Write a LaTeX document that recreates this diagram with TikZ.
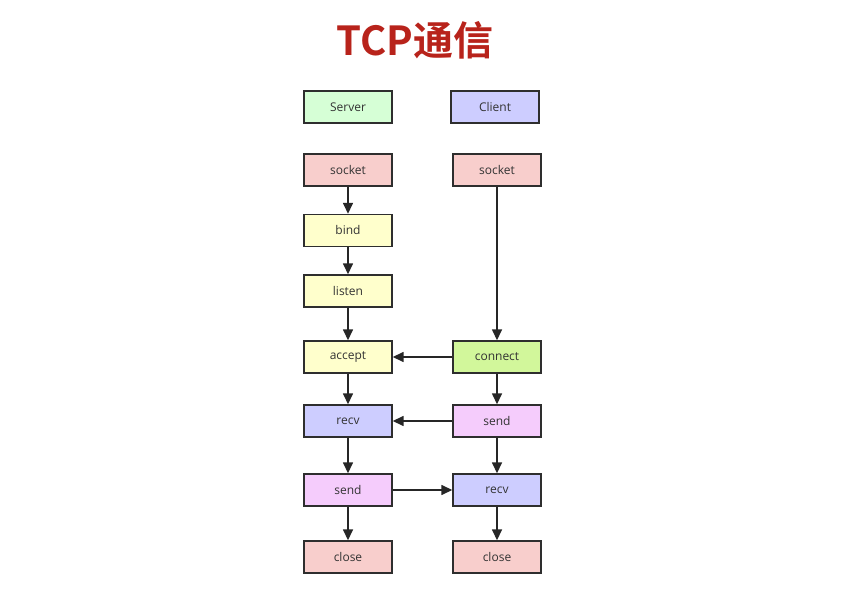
\documentclass[tikz,border=0pt]{standalone}
\usepackage{fontspec}
\setsansfont{Open Sans}
\newfontfamily\cjk{Noto Sans CJK SC}[BoldFont={Noto Sans CJK SC Bold}]
\usetikzlibrary{arrows.meta}
\definecolor{titlered}{HTML}{B8231B}
\definecolor{cgreen}{HTML}{D6FFD6}
\definecolor{cblue}{HTML}{CDCDFF}
\definecolor{cpink}{HTML}{F8CECC}
\definecolor{cyellow}{HTML}{FFFFCC}
\definecolor{clime}{HTML}{D2F79B}
\definecolor{cviolet}{HTML}{F5CCFC}
\definecolor{cborder}{HTML}{2E2E2E}
\tikzset{
  box/.style={draw=cborder, line width=1.4pt, minimum width=88pt, minimum height=32pt,
    inner sep=0pt, font=\sffamily\fontsize{12}{14}\selectfont, text=black!80},
  link/.style={draw=black!85, line width=1.5pt, -{Triangle[length=11pt,width=10pt]}}
}
\begin{document}
\begin{tikzpicture}[x=1pt,y=-1pt]
\useasboundingbox[fill=white] (0,0) rectangle (851,593);
\node[font=\cjk\bfseries\fontsize{40}{46}\selectfont, text=titlered] (title) at (415,40) {TCP通信};
\node[box, fill=cgreen] (server) at (348,107) {Server};
\node[box, fill=cblue] (client) at (495,107) {Client};
\node[box, fill=cpink] (ssock) at (348,170) {socket};
\node[box, fill=cyellow] (bind) at (348,230.5) {bind};
\node[box, fill=cyellow] (listen) at (348,291) {listen};
\node[box, fill=cyellow] (accept) at (348,357) {accept};
\node[box, fill=cblue] (srecv) at (348,421) {recv};
\node[box, fill=cviolet] (ssend) at (348,490) {send};
\node[box, fill=cpink] (sclose) at (348,557) {close};
\node[box, fill=cpink] (csock) at (497,170) {socket};
\node[box, fill=clime] (connect) at (497,357) {connect};
\node[box, fill=cviolet] (csend) at (497,421) {send};
\node[box, fill=cblue] (crecv) at (497,490) {recv};
\node[box, fill=cpink] (cclose) at (497,557) {close};
\draw[link] (ssock) -- (bind);
\draw[link] (bind) -- (listen);
\draw[link] (listen) -- (accept);
\draw[link] (accept) -- (srecv);
\draw[link] (srecv) -- (ssend);
\draw[link] (ssend) -- (sclose);
\draw[link] (csock) -- (connect);
\draw[link] (connect) -- (csend);
\draw[link] (csend) -- (crecv);
\draw[link] (crecv) -- (cclose);
\draw[link] (connect) -- (accept);
\draw[link] (csend) -- (srecv);
\draw[link] (ssend) -- (crecv);
\end{tikzpicture}
\end{document}
